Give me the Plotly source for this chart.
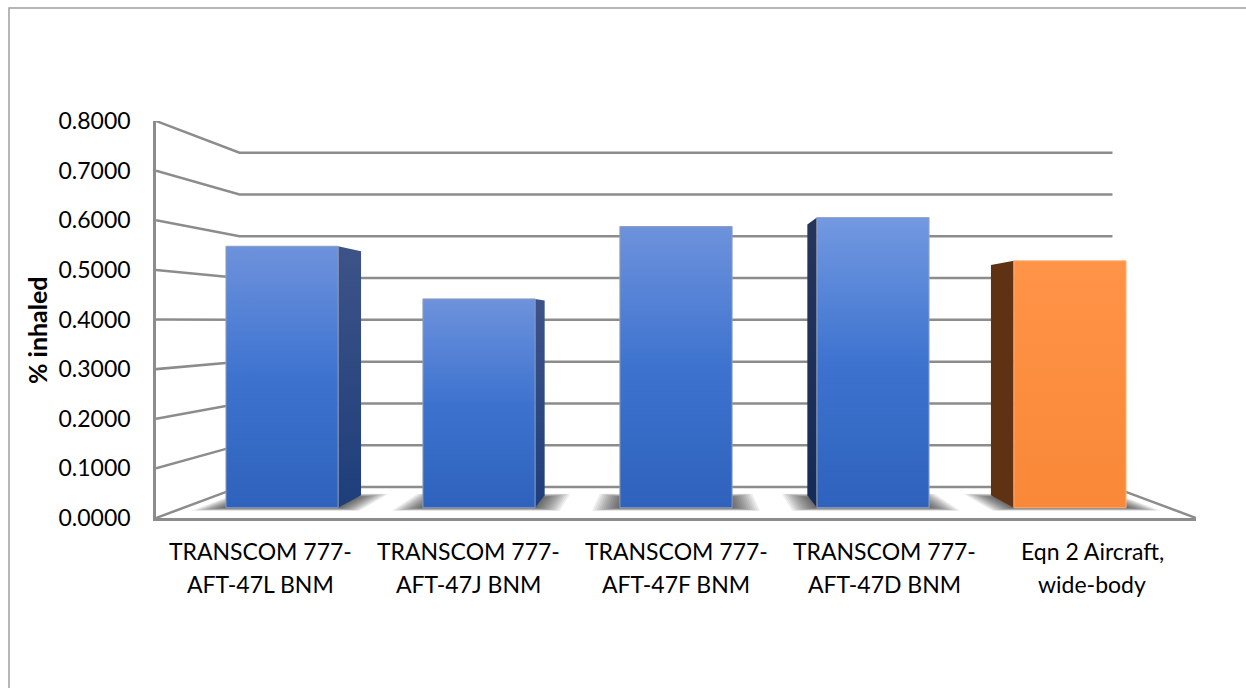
import plotly.graph_objects as go

# ---- data ----
CATEGORY_LINES = [
    ["TRANSCOM 777-", "AFT-47L BNM"],
    ["TRANSCOM 777-", "AFT-47J BNM"],
    ["TRANSCOM 777-", "AFT-47F BNM"],
    ["TRANSCOM 777-", "AFT-47D BNM"],
    ["Eqn 2 Aircraft,", "wide-body"],
]
VALUES = [0.556, 0.444, 0.598, 0.617, 0.525]
Y_TICKS = [0, 0.1, 0.2, 0.3, 0.4, 0.5, 0.6, 0.7, 0.8]
Y_TITLE = "% inhaled"

FACE_SCALES = [
    [[0, "#2E62BC"], [0.5, "#3D73CF"], [1, "#6E92DC"]],
    [[0, "#2E62BC"], [0.5, "#3D73CF"], [1, "#6E92DC"]],
    [[0, "#2E62BC"], [0.5, "#3D73CF"], [1, "#6E92DC"]],
    [[0, "#2E62BC"], [0.5, "#3D73CF"], [1, "#7399E1"]],
    [[0, "#F98838"], [1, "#FF9347"]],
]
SIDE_SCALES = [
    [[0, "#1E3E7A"], [1, "#3D5388"]],
    [[0, "#1E3E7A"], [1, "#3D5388"]],
    [[0, "#1E3E7A"], [1, "#3D5388"]],
    [[0, "#142B57"], [1, "#25355A"]],
    [[0, "#5F3213"], [1, "#5F3213"]],
]
EDGE_COLORS = ["#8E9DBC", "#8E9DBC", "#8E9DBC", "#9AA5BC", "#FBB27C"]

GRID = "#8C8C8C"
FONT = "Lato"

# ---- simple depth model of the 3-D look ----
X_SHRINK = 0.1606    # width lost at the back wall
Y_SHRINK = 0.1583    # height lost at the back wall
FLOOR_RISE = 0.0626  # how far the floor climbs to the back wall
T_FRONT = 0.33       # depth of a bar's front face
T_BACK = 0.73        # depth of a bar's back face
HALF = 0.2847        # half bar width, in categories
CENTER = 2


def px(c, t):
    return CENTER + (c - CENTER) * (1 - X_SHRINK * t)


def py(v, t):
    return FLOOR_RISE * t + v * (1 - Y_SHRINK * t)


fig = go.Figure()


def poly(xs, ys, **kw):
    fig.add_trace(go.Scatter(x=xs, y=ys, mode="lines", showlegend=False,
                             hoverinfo="skip", cliponaxis=False, **kw))


# back-wall + side-wall grid lines
for v in Y_TICKS[1:]:
    poly([-0.5, px(-0.5, 1), px(4.5, 1)], [v, py(v, 1), py(v, 1)],
         line=dict(color=GRID, width=2.5))
# floor outline
poly([-0.5, px(-0.5, 1), px(4.5, 1), 4.5], [0, py(0, 1), py(0, 1), 0],
     line=dict(color=GRID, width=2.5))

# soft floor shadows: nested translucent footprints
SHADOW_STEPS = [1.0, 0.92, 0.84, 0.76, 0.68, 0.60, 0.52, 0.44, 0.36, 0.28, 0.20, 0.12, 0.05]
for i in range(len(VALUES)):
    for s in SHADOW_STEPS:
        h = HALF + 0.135 * s
        tf = T_FRONT - 0.10 * s
        tb = T_BACK + 0.05 * s - 0.06 * (1 - s)
        poly([px(i - h, tf), px(i + h, tf), px(i + h, tb), px(i - h, tb), px(i - h, tf)],
             [py(0, tf), py(0, tf), py(0, tb), py(0, tb), py(0, tf)],
             fill="toself", fillcolor="rgba(30,30,30,0.075)", line=dict(width=0))

# bars: side face, then front face
for i, v in enumerate(VALUES):
    for sgn in (-1, 1):
        xf = px(i + sgn * HALF, T_FRONT)
        xb = px(i + sgn * HALF, T_BACK)
        if (xb - xf) * sgn > 0.002:
            poly([xf, xb, xb, xf, xf],
                 [py(0, T_FRONT), py(0, T_BACK), py(v, T_BACK), py(v, T_FRONT), py(0, T_FRONT)],
                 fill="toself", line=dict(width=0),
                 fillgradient=dict(type="vertical", colorscale=SIDE_SCALES[i]))
    x0, x1 = px(i - HALF, T_FRONT), px(i + HALF, T_FRONT)
    y0, y1 = py(0, T_FRONT), py(v, T_FRONT)
    poly([x0, x1, x1, x0, x0], [y0, y0, y1, y1, y0],
         fill="toself", line=dict(width=1, color=EDGE_COLORS[i]),
         fillgradient=dict(type="vertical", colorscale=FACE_SCALES[i]))

# category labels, line by line (the original has a wide line pitch)
annotations = []
for i, lines in enumerate(CATEGORY_LINES):
    for k, text in enumerate(lines):
        annotations.append(dict(text=text, x=i, xref="x", y=0, yref="paper",
                                yanchor="middle", xanchor="center", showarrow=False,
                                yshift=-33 - 33 * k,
                                font=dict(family=FONT, size=23, color="#000000")))
# axis title, placed by hand: it sits below the middle of the axis
annotations.append(dict(text="<b>%s</b>" % Y_TITLE, textangle=-90, showarrow=False,
                        xref="paper", yref="paper",
                        x=(37 - 156) / 1040, y=(518 - 330) / 397,
                        xanchor="center", yanchor="middle",
                        font=dict(family=FONT, size=25, color="#000000")))

fig.update_layout(
    width=1246, height=688, autosize=False,
    margin=dict(l=156, r=50, t=121, b=170, pad=0),
    paper_bgcolor="#FFFFFF", plot_bgcolor="rgba(0,0,0,0)",
    showlegend=False,
    annotations=annotations,
    xaxis=dict(range=[-0.5, 4.5], showgrid=False, zeroline=False, showticklabels=False,
               ticks="", showline=True, linecolor=GRID, linewidth=2.5),
    yaxis=dict(range=[0, 0.8], tickvals=Y_TICKS, tickformat=".4f", showgrid=False,
               zeroline=False, ticks="", showline=True, linecolor=GRID, linewidth=2.5,
               ticklabelstandoff=18,
               tickfont=dict(family=FONT, size=23, color="#000000")),
    shapes=[dict(type="rect", xref="paper", yref="paper",
                 x0=(9 - 156) / 1040, x1=(1260 - 156) / 1040,
                 y0=(518 - 700) / 397, y1=(518 - 8) / 397,
                 line=dict(color="#9E9E9E", width=1.5), layer="below")],
)

fig.write_html("out.html", config={"displayModeBar": False},
               post_script="document.body.style.margin='0';document.body.style.overflow='hidden';")
